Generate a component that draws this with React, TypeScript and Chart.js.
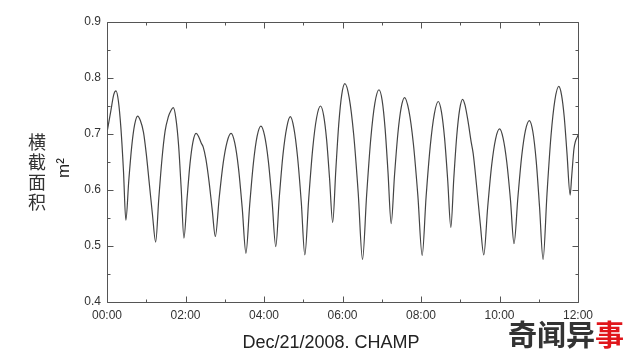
import React, { useEffect, useRef } from "react";
import { Chart, registerables } from "chart.js";

Chart.register(...registerables);

// time of day (hours since 00:00, Dec/21/2008)
const hours = [
  0.00, 0.10, 0.17, 0.23,
  0.29, 0.355, 0.42, 0.48,
  0.555, 0.63, 0.705, 0.78,
  0.85, 0.93, 1.00, 1.08, 1.16, 1.24,
  1.32, 1.40, 1.48, 1.56, 1.63, 1.69,
  1.755, 1.825, 1.89, 1.96,
  2.04, 2.115, 2.19, 2.27,
  2.33, 2.40, 2.45, 2.52, 2.60, 2.68, 2.76,
  2.86, 2.96, 3.06, 3.16,
  3.255, 3.35, 3.445, 3.54,
  3.635, 3.73, 3.825, 3.92,
  4.015, 4.11, 4.205, 4.30,
  4.39, 4.485, 4.58, 4.67,
  4.76, 4.855, 4.95, 5.04,
  5.14, 5.24, 5.34, 5.44,
  5.52, 5.595, 5.67, 5.75,
  5.83, 5.905, 5.98, 6.06,
  6.17, 6.285, 6.40, 6.51,
  6.615, 6.72, 6.825, 6.93,
  7.01, 7.085, 7.16, 7.24,
  7.325, 7.41, 7.495, 7.58,
  7.69, 7.805, 7.92, 8.03,
  8.13, 8.235, 8.34, 8.44,
  8.52, 8.60, 8.68, 8.76,
  8.835, 8.91, 8.985, 9.06,
  9.12, 9.20, 9.28, 9.33, 9.42, 9.51, 9.60,
  9.70, 9.80, 9.90, 10.00,
  10.09, 10.185, 10.28, 10.37,
  10.47, 10.565, 10.66, 10.76,
  10.85, 10.935, 11.02, 11.11,
  11.21, 11.31, 11.41, 11.51,
  11.58, 11.65, 11.72, 11.80,
  11.84, 11.90, 12.00,
];

// cross-sectional area (m^2)
const area = [
  0.703, 0.742, 0.770, 0.777,
  0.759, 0.710, 0.634, 0.546,
  0.617, 0.678, 0.717, 0.732,
  0.724, 0.703, 0.665, 0.610, 0.555, 0.507,
  0.585, 0.655, 0.705, 0.730, 0.742, 0.747,
  0.728, 0.679, 0.603, 0.514,
  0.585, 0.647, 0.686, 0.701,
  0.696, 0.684, 0.677, 0.655, 0.615, 0.565, 0.517,
  0.587, 0.648, 0.686, 0.701,
  0.684, 0.639, 0.568, 0.487,
  0.573, 0.648, 0.696, 0.714,
  0.697, 0.652, 0.581, 0.499,
  0.587, 0.664, 0.712, 0.731,
  0.711, 0.659, 0.578, 0.484,
  0.585, 0.673, 0.729, 0.750,
  0.733, 0.690, 0.621, 0.542,
  0.636, 0.718, 0.770, 0.790,
  0.765, 0.699, 0.595, 0.476,
  0.591, 0.691, 0.755, 0.779,
  0.760, 0.710, 0.631, 0.540,
  0.626, 0.700, 0.747, 0.765,
  0.742, 0.683, 0.590, 0.483,
  0.588, 0.678, 0.736, 0.758,
  0.740, 0.693, 0.618, 0.533,
  0.620, 0.696, 0.744, 0.762,
  0.752, 0.722, 0.685, 0.665, 0.605, 0.540, 0.484,
  0.570, 0.644, 0.691, 0.709,
  0.693, 0.650, 0.582, 0.504,
  0.588, 0.660, 0.706, 0.724,
  0.704, 0.652, 0.570, 0.476,
  0.593, 0.695, 0.760, 0.785,
  0.770, 0.730, 0.665, 0.591,
  0.625, 0.675, 0.698,
];

const xMajorTicks = [0, 2, 4, 6, 8, 10, 12];
const xMinorTicks = [1, 3, 5, 7, 9, 11];
const yMajorTicks = [0.4, 0.5, 0.6, 0.7, 0.8, 0.9];
const yMinorTicks = [0.45, 0.55, 0.65, 0.75, 0.85];

const yTitleChars = ["横", "截", "面", "积"];
const yUnit = "m²";
const xTitle = "Dec/21/2008. CHAMP";
const markDark = "奇闻异";
const markRed = "事";

const framePlugin = {
  id: "frame",
  afterDraw(chart: any) {
    const { ctx, chartArea: a, scales } = chart;
    const x = scales.x;
    const y = scales.y;
    ctx.save();
    ctx.strokeStyle = "#555";
    ctx.lineWidth = 1;
    const L = Math.round(a.left) + 0.5;
    const R = Math.round(a.right) + 0.5;
    const T = Math.round(a.top) + 0.5;
    const B = Math.round(a.bottom) + 0.5;
    ctx.beginPath();
    ctx.rect(L, T, R - L, B - T);
    ctx.stroke();
    ctx.beginPath();
    const xt = (v: number, len: number) => {
      const px = Math.round(x.getPixelForValue(v)) + 0.5;
      ctx.moveTo(px, B);
      ctx.lineTo(px, B - len);
      ctx.moveTo(px, T);
      ctx.lineTo(px, T + len);
    };
    const yt = (v: number, len: number) => {
      const py = Math.round(y.getPixelForValue(v)) + 0.5;
      ctx.moveTo(L, py);
      ctx.lineTo(L + len, py);
      ctx.moveTo(R, py);
      ctx.lineTo(R - len, py);
    };
    xMajorTicks.forEach((v) => xt(v, 6));
    xMinorTicks.forEach((v) => xt(v, 3));
    yMajorTicks.forEach((v) => yt(v, 6));
    yMinorTicks.forEach((v) => yt(v, 3));
    ctx.stroke();

    // y title: stacked CJK characters
    ctx.fillStyle = "#333";
    ctx.font = '18px "Noto Sans CJK SC"';
    ctx.textAlign = "center";
    ctx.textBaseline = "middle";
    yTitleChars.forEach((c, i) => ctx.fillText(c, 37, 142 + i * 20));

    // unit rotated
    ctx.save();
    ctx.translate(69, 168);
    ctx.rotate(-Math.PI / 2);
    ctx.font = '17px "Liberation Sans", Arial, sans-serif';
    ctx.textAlign = "center";
    ctx.textBaseline = "alphabetic";
    ctx.fillStyle = "#222";
    ctx.fillText(yUnit, 0, 0);
    ctx.restore();

    // x title
    ctx.fillStyle = "#222";
    ctx.font = '18px "Liberation Sans", Arial, sans-serif';
    ctx.textAlign = "center";
    ctx.textBaseline = "middle";
    ctx.fillText(xTitle, 331, 343);

    // watermark
    ctx.font = 'bold 29px "Noto Sans CJK SC"';
    ctx.textAlign = "left";
    ctx.textBaseline = "middle";
    ctx.fillStyle = "#333";
    ctx.fillText(markDark, 508, 335);
    const w = ctx.measureText(markDark).width;
    ctx.fillStyle = "#e0161b";
    ctx.fillText(markRed, 508 + w, 335);
    ctx.restore();
  },
};

export default function App() {
  const ref = useRef<HTMLCanvasElement | null>(null);
  useEffect(() => {
    document.body.style.margin = "0";
    const canvas = ref.current!;
    const data = hours.map((h, i) => ({ x: h, y: area[i] }));
    const tickFont = { family: '"Liberation Sans", Arial, sans-serif', size: 12 };
    const chart = new Chart(canvas, {
      type: "line",
      data: {
        datasets: [
          {
            data,
            borderColor: "#444",
            borderWidth: 1.2,
            pointRadius: 0,
            cubicInterpolationMode: "monotone",
            fill: false,
          },
        ],
      },
      options: {
        animation: false,
        responsive: false,
        devicePixelRatio: 1,
        layout: { padding: { top: 22, right: 52, bottom: 0, left: 0 } },
        plugins: { legend: { display: false }, tooltip: { enabled: false } },
        scales: {
          x: {
            type: "linear",
            min: 0,
            max: 12,
            afterFit: (s: any) => {
              s.height = 57;
            },
            grid: { display: false, drawTicks: false },
            border: { display: false },
            ticks: {
              stepSize: 2,
              padding: 6,
              color: "#333",
              font: tickFont,
              maxRotation: 0,
              callback: (v: any) => String(v).padStart(2, "0") + ":00",
            },
          },
          y: {
            min: 0.4,
            max: 0.9,
            afterFit: (s: any) => {
              s.width = 107;
            },
            grid: { display: false, drawTicks: false },
            border: { display: false },
            ticks: {
              stepSize: 0.1,
              padding: 6,
              color: "#333",
              font: tickFont,
              callback: (v: any) => Number(v).toFixed(1),
            },
          },
        },
      },
      plugins: [framePlugin],
    });
    return () => chart.destroy();
  }, []);
  return (
    <div style={{ width: 630, height: 359, position: "relative", background: "#fff" }}>
      <canvas ref={ref} width={630} height={359} />
    </div>
  );
}
